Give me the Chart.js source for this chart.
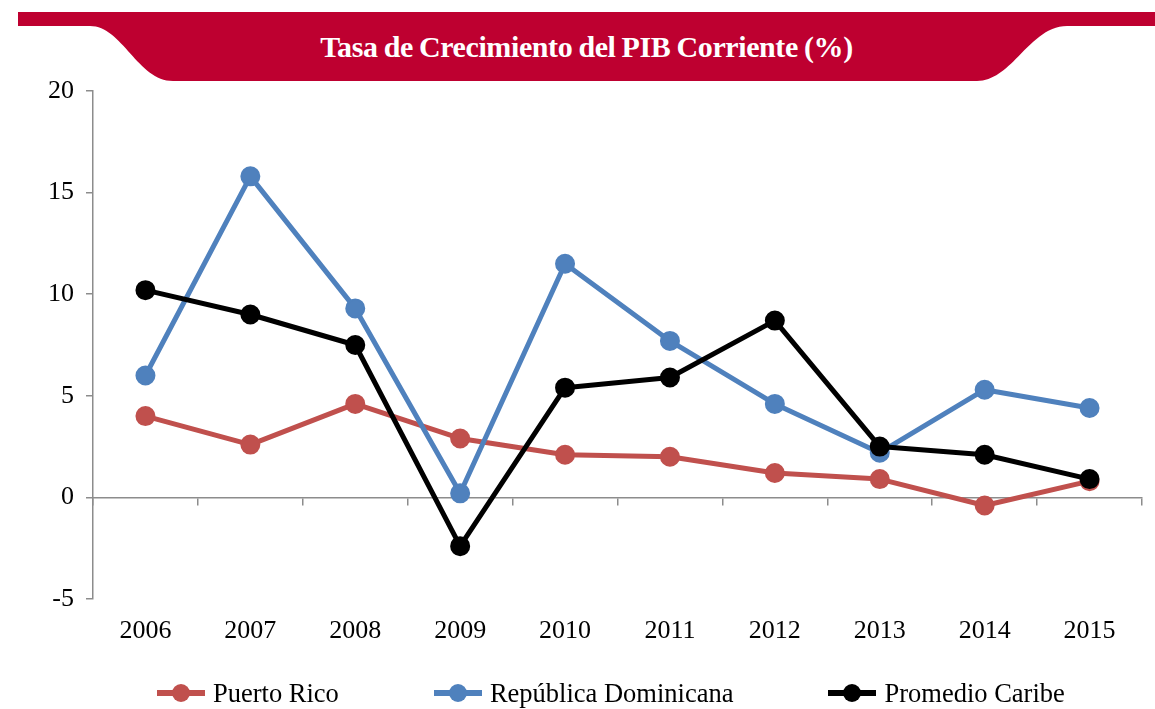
<!DOCTYPE html>
<html>
<head>
<meta charset="utf-8">
<script src="https://cdn.jsdelivr.net/npm/chart.js@4"></script>
<style>
  html, body { margin: 0; padding: 0; background: #fff; }
  #wrap { position: relative; width: 1155px; height: 709px; overflow: hidden; font-family: "Liberation Serif", "Times New Roman", serif; }
  #band { position: absolute; left: 0; top: 0; }
  #title { position: absolute; left: 18px; top: 29px; width: 1137px; text-align: center; color: #fff; font-weight: bold; font-size: 30px; line-height: 36px; letter-spacing: -0.4px; word-spacing: -1px; }
  #chart { position: absolute; left: 0; top: 0; }
  #legend { position: absolute; left: 157px; top: 677px; display: flex; gap: 95px; font-size: 26.5px; line-height: 32px; color: #000; }
  .item { display: flex; align-items: center; }
  .mark { position: relative; width: 48px; height: 32px; margin-right: 8px; }
  .mark .ln { position: absolute; left: 0; right: 0; top: 13px; height: 6px; }
  .mark .dt { position: absolute; left: 15px; top: 7px; width: 18px; height: 18px; border-radius: 50%; }
</style>
</head>
<body>
<div id="wrap">
  <svg id="band" width="1155" height="90">
    <path d="M18,12 H1155 V26 H1067 C1030,26 1012,81 977,81 H173 C138,81 122,26 90,26 H18 Z" fill="#BE0030"/>
  </svg>
  <div id="title">Tasa de Crecimiento del PIB Corriente (%)</div>
  <canvas id="chart" width="1155" height="709"></canvas>
  <div id="legend"></div>
</div>
<script>
const years = ['2006', '2007', '2008', '2009', '2010', '2011', '2012', '2013', '2014', '2015'];
const puertoRico = [4.0, 2.6, 4.6, 2.9, 2.1, 2.0, 1.2, 0.9, -0.4, 0.8];
const republicaDominicana = [6.0, 15.8, 9.3, 0.2, 11.5, 7.7, 4.6, 2.2, 5.3, 4.4];
const promedioCaribe = [10.2, 9.0, 7.5, -2.4, 5.4, 5.9, 8.7, 2.5, 2.1, 0.9];

const seriesNames = ['Puerto Rico', 'República Dominicana', 'Promedio Caribe'];
const seriesColors = ['#C0504D', '#4F81BD', '#000000'];
const seriesData = [puertoRico, republicaDominicana, promedioCaribe];

const axisColor = '#8C8C8C';
const font = { family: '"Liberation Serif", "Times New Roman", serif', size: 26 };

// first series drawn underneath, last one on top
const datasets = seriesData.map((d, i) => ({
    label: seriesNames[i],
    data: d,
    borderColor: seriesColors[i],
    backgroundColor: seriesColors[i],
    pointBackgroundColor: seriesColors[i],
    pointBorderColor: seriesColors[i],
    borderWidth: 5,
    pointRadius: 9,
    pointBorderWidth: 2,
    borderJoinStyle: 'round',
    tension: 0,
    order: 2 - i
}));

new Chart(document.getElementById('chart'), {
    type: 'line',
    data: { labels: years, datasets: datasets },
    options: {
        responsive: false,
        animation: false,
        layout: { padding: { left: 0, right: 13, top: 91, bottom: 0 } },
        plugins: { legend: { display: false }, tooltip: { enabled: false } },
        scales: {
            x: {
                type: 'category',
                position: { y: 0 },
                offset: true,
                grid: { offset: true, drawOnChartArea: false, drawTicks: true, tickLength: 7, color: axisColor, lineWidth: 1.5 },
                border: { color: axisColor, width: 1.5 },
                ticks: { display: false },
                afterFit: s => { s.height = 0; }
            },
            x2: {
                type: 'category',
                position: 'bottom',
                labels: years,
                offset: true,
                grid: { display: false, drawTicks: false },
                border: { display: false },
                ticks: { color: '#000', font: font, padding: 17, maxRotation: 0 },
                afterFit: s => { s.height = 110; }
            },
            y: {
                min: -5,
                max: 20,
                ticks: { stepSize: 5, color: '#000', font: font, padding: 12 },
                grid: { drawOnChartArea: false, tickLength: 7, color: axisColor, lineWidth: 1.5 },
                border: { color: axisColor, width: 1.5 },
                afterFit: s => { s.width = 93; }
            }
        }
    }
});

const legend = document.getElementById('legend');
seriesNames.forEach((name, i) => {
    const item = document.createElement('div');
    item.className = 'item';
    item.innerHTML = '<span class="mark"><span class="ln" style="background:' + seriesColors[i] +
        '"></span><span class="dt" style="background:' + seriesColors[i] + '"></span></span><span>' + name + '</span>';
    legend.appendChild(item);
});
</script>
</body>
</html>
